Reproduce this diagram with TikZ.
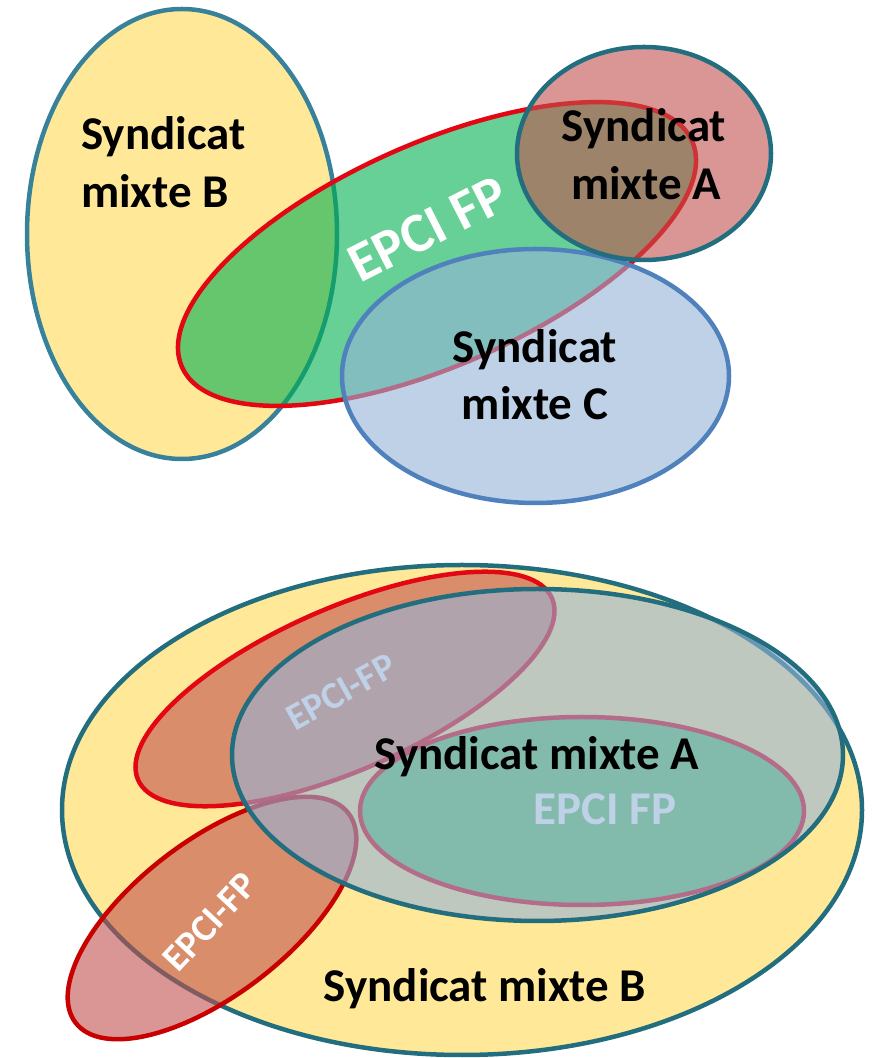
\documentclass[tikz,border=0pt]{standalone}
\usepackage{fontspec}
\setmainfont{Carlito}
\usetikzlibrary{shapes.geometric}
\definecolor{ylw}{HTML}{FFE999}
\definecolor{tealA}{HTML}{37819A}
\definecolor{tealD}{HTML}{226E7E}
\definecolor{grn}{HTML}{00B050}
\definecolor{redS}{HTML}{E30613}
\definecolor{redD}{HTML}{C80000}
\definecolor{pinkF}{HTML}{C0504D}
\definecolor{bluF}{HTML}{95B3D7}
\definecolor{bluS}{HTML}{4F81BD}
\tikzset{
  region/.style={ellipse, inner sep=0pt, outer sep=0pt, line width=4.5pt},
  yellowset/.style={region, fill=ylw, draw=#1},
  greenset/.style={region, fill=grn, fill opacity=0.6, draw=redS, draw opacity=1},
  pinkset/.style={region, fill=pinkF, fill opacity=0.6, draw=#1, draw opacity=1},
  blueset/.style={region, fill=bluF, fill opacity=0.6, draw=#1, draw opacity=1},
  txt/.style={font=\bfseries\fontsize{47}{56}\selectfont, inner sep=0pt, text=black},
  wtxt/.style={font=\bfseries\fontsize{#1}{#1}\selectfont, inner sep=0pt, text=white},
}
\begin{document}
\begin{tikzpicture}[x=1pt,y=1pt]
\useasboundingbox (0,0) rectangle (874,1058);
% ---------- top diagram ----------
\node[yellowset=tealA, minimum width=310pt, minimum height=450pt] (Bt) at (182,824) {};
\node[greenset, minimum width=558pt, minimum height=222pt, rotate=23.9] (Et) at (437,804) {};
\node[blueset=bluS, minimum width=387pt, minimum height=254pt] (Ct) at (535.5,682) {};
\node[pinkset=tealD, minimum width=254pt, minimum height=213pt] (At) at (644,904.5) {};
\node[txt, anchor=base west] (tB1) at (81,908) {Syndicat};
\node[txt, anchor=base west] (tB2) at (81,850) {mixte B};
\node[txt, anchor=base] (tA1) at (644,916) {Syndicat};
\node[txt, anchor=base] (tA2) at (646,858) {mixte A};
\node[txt, anchor=base] (tC1) at (535,695) {Syndicat};
\node[txt, anchor=base] (tC2) at (535,638) {mixte C};
\node[wtxt=56, rotate=27] (tE) at (428,829) {EPCI FP};
% ---------- bottom diagram ----------
\node[yellowset=tealD, minimum width=800pt, minimum height=490pt] (Bb) at (462,248) {};
\node[pinkset=redS, minimum width=452pt, minimum height=162pt, rotate=23.7] (E1) at (345,369) {};
\node[pinkset=redD, minimum width=344pt, minimum height=154pt, rotate=37.5] (E2) at (212,140) {};
\node[greenset, minimum width=444pt, minimum height=188pt] (E3) at (582,247) {};
\node[wtxt=38, rotate=29] (tE1) at (341,366) {EPCI-FP};
\node[wtxt=47, anchor=base] (tE3) at (605,233) {EPCI FP};
\node[blueset=tealD, minimum width=611pt, minimum height=332pt] (Ab) at (537.5,303) {};
\node[wtxt=38, rotate=47] (tE2) at (210,136) {EPCI-FP};
\node[txt, anchor=base] (tAb) at (537,288) {Syndicat mixte A};
\node[txt, anchor=base] (tBb) at (485,56) {Syndicat mixte B};
\end{tikzpicture}
\end{document}
